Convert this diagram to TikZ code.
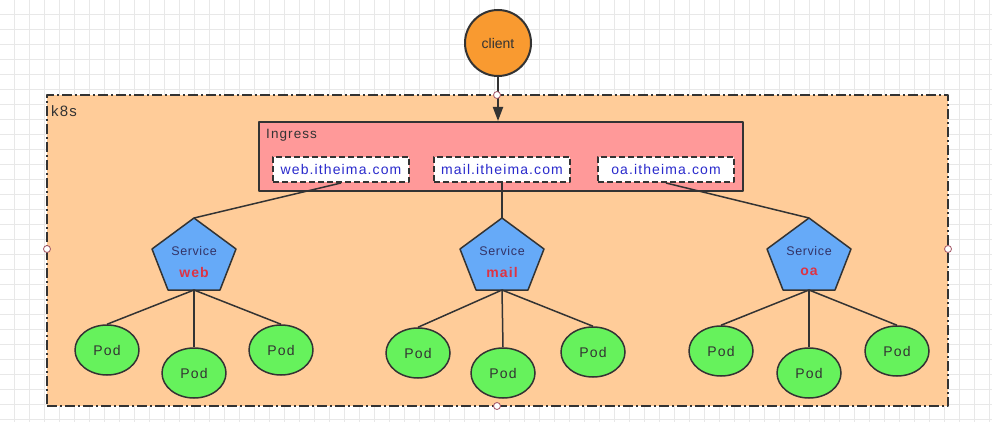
\documentclass[tikz,border=0pt]{standalone}
\usepackage{fontspec}
\setmainfont{Liberation Sans}
\newfontfamily\spaced[LetterSpace=8]{Liberation Sans}
\newfontfamily\spacedb[LetterSpace=5]{Liberation Sans}
\usetikzlibrary{arrows.meta,shapes.geometric}
\definecolor{lc}{HTML}{333333}
\definecolor{gridc}{HTML}{E8E8E8}
\definecolor{peach}{HTML}{FFCC99}
\definecolor{ingr}{HTML}{FF9999}
\definecolor{orangec}{HTML}{F99A30}
\definecolor{svc}{HTML}{66AAF8}
\definecolor{podg}{HTML}{66F25C}
\definecolor{hostblue}{HTML}{2A2ACC}
\definecolor{svctxt}{HTML}{333366}
\definecolor{redtxt}{HTML}{DD3344}
\definecolor{txt}{HTML}{333333}
\definecolor{hcol}{HTML}{A05060}
\begin{document}
\begin{tikzpicture}[x=1pt,y=-1pt,line join=round,
  conn/.style={draw=lc,line width=1.5pt},
  podnode/.style={ellipse,draw=lc,line width=1.5pt,fill=podg,minimum width=64pt,minimum height=50pt,inner sep=0pt,font=\spaced\fontsize{14}{16}\selectfont,text=txt},
  hostbox/.style={draw=lc,dash pattern=on 6pt off 3pt,line width=2pt,fill=white,minimum width=136pt,minimum height=25pt,inner sep=0pt,font=\spaced\fontsize{14}{16}\selectfont,text=hostblue},
  svcshape/.style={draw=lc,fill=svc,line width=1.5pt},
  svctext/.style={inner sep=0pt,font=\spacedb\fontsize{12.5}{14}\selectfont,text=svctxt},
  svclabel/.style={inner sep=0pt,font=\spaced\fontsize{14}{16}\selectfont\bfseries,text=redtxt},
  plain/.style={inner sep=0pt,font=\spaced\fontsize{13.5}{15}\selectfont,text=txt},
  handle/.style={circle,draw=hcol,fill=white,line width=0.8pt,minimum size=7pt,inner sep=0pt},
]
\useasboundingbox (0,0) rectangle (992,422);
\fill[white] (0,0) rectangle (992,422);
\foreach \i in {0,...,65} \draw[gridc,line width=0.7pt] ({14+15*\i},0) -- ({14+15*\i},422);
\foreach \j in {0,...,27} \draw[gridc,line width=0.7pt] (0,{14+15*\j}) -- (992,{14+15*\j});

% k8s cluster
\node[draw=lc,fill=peach,line width=2pt,dash pattern=on 10pt off 3pt on 2pt off 3pt,
      minimum width=901pt,minimum height=311pt,inner sep=0pt] (k8s) at (497.5,250.5) {};
\node[plain,anchor=west,font=\spaced\fontsize{15}{17}\selectfont] (k8slabel) at (51,111) {k8s};

% client
\node[circle,draw=lc,line width=2pt,fill=orangec,minimum size=66pt,inner sep=0pt,
      font=\fontsize{14}{16}\selectfont,text=txt] (client) at (498,43) {client};

% ingress
\node[draw=lc,fill=ingr,line width=2pt,minimum width=484pt,minimum height=69pt,inner sep=0pt] (ingress) at (501,156.5) {};
\node[plain,anchor=west] (inglabel) at (266,135) {Ingress};

\draw[conn,line width=2pt,-{Triangle[length=14pt,width=10pt]}] (client.south) -- (client.south |- ingress.north);

% hosts
\node[hostbox] (hweb) at (341,169.5) {web.itheima.com};
\node[hostbox] (hmail) at (502,169.5) {mail.itheima.com};
\node[hostbox] (hoa) at (666,169.5) {oa.itheima.com};

% services
\foreach \n/\cx in {web/194,mail/502,oa/809}{
  \path[svcshape] (\cx,218) -- ({\cx-42},249) -- ({\cx-26},290) -- ({\cx+26},290) -- ({\cx+42},249) -- cycle;
  \coordinate (s\n-top) at (\cx,218);
  \coordinate (s\n-bot) at (\cx,290);
  \node[svctext] (s\n-t) at (\cx,251) {Service};
  \node[svclabel] (s\n-l) at (\cx,272) {\n};
}

% host -> service
\draw[conn] (hweb.south) -- (sweb-top);
\draw[conn] (hmail.south) -- (smail-top);
\draw[conn] (hoa.south) -- (soa-top);

% pods
\foreach \n/\a/\b/\c/\ya/\yb/\yc in {web/107/194/281/350/373/350, mail/418/503/593/353/373/352, oa/721/809/897/351/373/351}{
  \node[podnode] (p\n1) at (\a,\ya) {Pod};
  \node[podnode] (p\n2) at (\b,\yb) {Pod};
  \node[podnode] (p\n3) at (\c,\yc) {Pod};
  \draw[conn] (s\n-bot) -- (p\n1.north);
  \draw[conn] (s\n-bot) -- (p\n2.north);
  \draw[conn] (s\n-bot) -- (p\n3.north);
}

% selection handles
\node[handle] (h1) at (497,95) {};
\node[handle] (h2) at (47,249) {};
\node[handle] (h3) at (948,249) {};
\node[handle] (h4) at (497,406) {};
\end{tikzpicture}
\end{document}
